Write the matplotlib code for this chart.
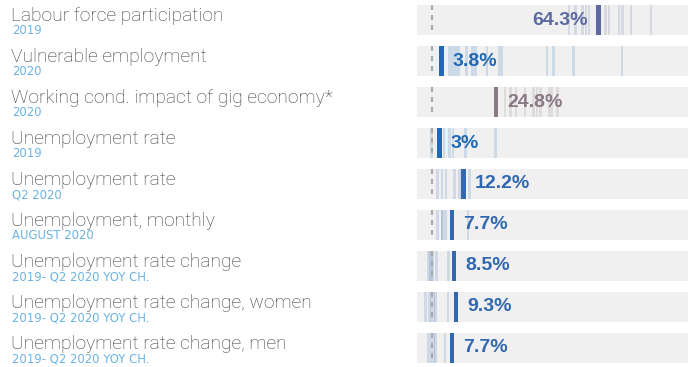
import matplotlib
matplotlib.use("Agg")
import matplotlib.pyplot as plt
from matplotlib import font_manager
from matplotlib.transforms import blended_transform_factory

# Indicator rows (top to bottom)
indicators = [
    "Labour force participation",
    "Vulnerable employment",
    "Working cond. impact of gig economy*",
    "Unemployment rate",
    "Unemployment rate",
    "Unemployment, monthly",
    "Unemployment rate change",
    "Unemployment rate change, women",
    "Unemployment rate change, men",
]
periods = [
    "2019",
    "2020",
    "2020",
    "2019",
    "Q2 2020",
    "AUGUST 2020",
    "2019- Q2 2020 YOY CH.",
    "2019- Q2 2020 YOY CH.",
    "2019- Q2 2020 YOY CH.",
]
# Highlighted country value (%)
values = [64.3, 3.8, 24.8, 3.0, 12.2, 7.7, 8.5, 9.3, 7.7]

# Peer-country values shown as faint strips (%)
peers_labour = [52.9, 55.5, 58.1, 59.4, 60.6, 67.1, 68.3, 72.2, 73.5, 76.8, 84.5]
peers_vulnerable = [6.8, 7.95, 9.2, 10.3, 13.5, 15.7, 16.9, 21.3, 26.1, 27.0, 44.5, 47.0, 54.7, 73.4]
peers_gig = [28.3, 30.4, 32.4, 36.0, 39.2, 40.6, 41.9, 45.2, 46.1, 48.4]
peers_unemp_2019 = [0.0, 4.7, 6.9, 8.2, 13.0, 24.5]
peers_unemp_q2 = [2.3, 4.0, 5.5, 8.7, 10.8, 14.5]
peers_unemp_month = [2.3, 3.9, 4.2, 5.3, 13.9]
peers_change = [-1.3, -0.4, -0.1, 0.4, 1.8, 6.4]
peers_change_women = [-2.5, -0.9, 0.0, 0.8, 1.5, 6.2]
peers_change_men = [-1.4, -0.4, 0.6, 1.5, 5.1]
peer_values = [
    peers_labour, peers_vulnerable, peers_gig, peers_unemp_2019,
    peers_unemp_q2, peers_unemp_month, peers_change, peers_change_women,
    peers_change_men,
]

bar_colors = ["#5b6aa0", "#1f69b5", "#8a7884", "#1f69b5",
              "#3268b0", "#3268b0", "#3268b0", "#3268b0", "#3268b0"]

X_MIN, X_MAX = -5.7, 98.8
ROW_H = 0.732


def light_family():
    wanted = ["Roboto", "Inter", "Open Sans", "Lato", "Noto Sans"]
    found = {}
    for f in font_manager.fontManager.ttflist:
        if f.name in wanted and f.style == "normal":
            w = f.weight
            if isinstance(w, str):
                w = font_manager.weight_dict.get(w, 400)
            if w <= 300:
                found[f.name] = True
    for name in wanted:
        if name in found:
            return name
    return "Liberation Sans"


title_family = light_family()

fig = plt.figure(figsize=(7, 3.67), dpi=100)
ax = fig.add_axes([417 / 700, 1 - 363 / 367, 271 / 700, 358 / 367])
n = len(values)
ax.set_xlim(X_MIN, X_MAX)
ax.set_ylim(n - 1 + ROW_H / 2, -ROW_H / 2)
ax.axis("off")

rows = list(range(n))
ax.barh(rows, X_MAX - X_MIN, left=X_MIN, height=ROW_H,
        color="#f0f0f0", linewidth=0, zorder=0)

label_tf = blended_transform_factory(fig.transFigure, ax.transData)

for i in rows:
    c = bar_colors[i]
    ax.bar(peer_values[i], ROW_H, bottom=i - ROW_H / 2, width=1.0,
           color=c, alpha=0.17, linewidth=0, zorder=1)
    ax.plot([0, 0], [i - ROW_H / 2, i + ROW_H / 2], color="#a9a9a9",
            lw=1.5, ls=(0, (2.4, 2.4)), zorder=2, solid_capstyle="butt")
    ax.bar(values[i], ROW_H, bottom=i - ROW_H / 2, width=1.7,
           color=c, linewidth=0, zorder=3)

    v = values[i]
    if v > 50:
        off, ha = -8, "right"
    else:
        off, ha = 8, "left"
    ax.annotate(f"{v:g}%", xy=(v, i), xytext=(off, 0),
                textcoords="offset points", ha=ha, va="center",
                fontsize=14, fontweight="bold", family="Liberation Sans",
                color=c, zorder=4)

    fig.text(11 / 700, i + 0.035, indicators[i], transform=label_tf,
             ha="left", va="baseline", fontsize=13.8, color="#3a3a3a",
             family=title_family, fontweight="light")
    fig.text(12 / 700, i + 0.345, periods[i], transform=label_tf,
             ha="left", va="baseline", fontsize=8.4, color="#6cb3e4",
             family="DejaVu Sans", fontweight="normal")

fig.savefig("out.png", dpi=100)
